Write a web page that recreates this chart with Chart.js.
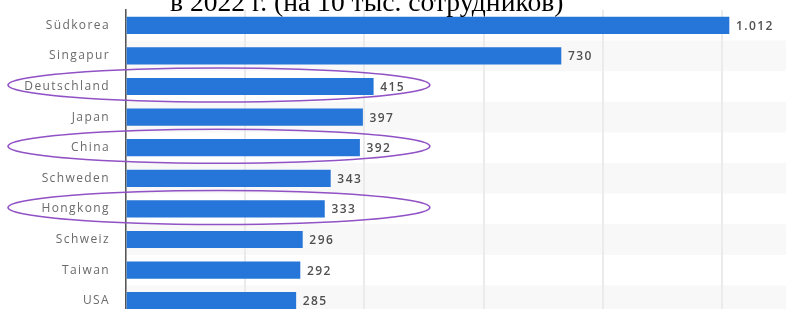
<!DOCTYPE html>
<html>
<head>
<meta charset="utf-8">
<script src="https://cdn.jsdelivr.net/npm/chart.js@4"></script>
<style>
  html, body { margin: 0; padding: 0; background: #fff; overflow: hidden; }
  #wrap { position: absolute; left: 0; top: 0; width: 841px; height: 316px; }
  #title {
    position: absolute; left: 170px; top: -12px; white-space: nowrap;
    font-family: "Liberation Serif", serif; font-size: 27.6px; line-height: 27px; color: #000;
  }
</style>
</head>
<body>
<div id="wrap"><canvas id="chart"></canvas></div>
<div id="title">в 2022 г. (на 10 тыс. сотрудников)</div>
<script>
// данные с картинки
const countries = ['Südkorea', 'Singapur', 'Deutschland', 'Japan', 'China', 'Schweden', 'Hongkong', 'Schweiz', 'Taiwan', 'USA'];
const robots = [1012, 730, 415, 397, 392, 343, 333, 296, 292, 285];
const marked = ['Deutschland', 'China', 'Hongkong'];

// полосы на фоне строк
const stripes = {
    id: 'stripes',
    beforeDraw(chart) {
        const { ctx, chartArea, scales } = chart;
        ctx.letterSpacing = '1.4px';
        const step = scales.y.getPixelForValue(1) - scales.y.getPixelForValue(0);
        ctx.save();
        ctx.fillStyle = '#f8f8f8';
        countries.forEach((c, i) => {
            if (i % 2 === 1) {
                const y = scales.y.getPixelForValue(i);
                ctx.fillRect(chartArea.left, y - step / 2, chartArea.right - chartArea.left, step);
            }
        });
        ctx.restore();
    }
};

// подписи значений у концов столбцов
const valueLabels = {
    id: 'valueLabels',
    afterDatasetsDraw(chart) {
        const { ctx } = chart;
        const meta = chart.getDatasetMeta(0);
        ctx.save();
        ctx.font = '600 12px "Open Sans"';
        ctx.fillStyle = '#505050';
        ctx.textBaseline = 'middle';
        meta.data.forEach((bar, i) => {
            ctx.fillText(robots[i].toLocaleString('de-DE'), bar.x + 7, bar.y + 1);
        });
        ctx.restore();
    }
};

// овалы вокруг отмеченных стран
const ovals = {
    id: 'ovals',
    afterDraw(chart) {
        const { ctx, scales } = chart;
        const left = 8;
        const right = scales.x.getPixelForValue(510);
        ctx.save();
        ctx.strokeStyle = '#9152c6';
        ctx.lineWidth = 1.5;
        marked.forEach(name => {
            const y = scales.y.getPixelForValue(countries.indexOf(name)) - 1.5;
            ctx.beginPath();
            ctx.ellipse((left + right) / 2, y, (right - left) / 2, 17, 0, 0, Math.PI * 2);
            ctx.stroke();
        });
        ctx.restore();
    }
};

new Chart(document.getElementById('chart'), {
    type: 'bar',
    data: {
        labels: countries,
        datasets: [{
            data: robots,
            backgroundColor: '#2675d9',
            barThickness: 16.5
        }]
    },
    options: {
        indexAxis: 'y',
        maintainAspectRatio: false,
        animation: false,
        events: [],
        layout: { padding: { top: 10, right: 0, bottom: 0, left: 0 } },
        plugins: { legend: { display: false }, tooltip: { enabled: false } },
        scales: {
            x: {
                min: 0, max: 1200,
                ticks: { display: false, stepSize: 200 },
                grid: { color: '#ebebeb', lineWidth: 2, drawTicks: false },
                border: { display: false }
            },
            y: {
                afterFit(scale) {
                    scale.width = 126;
                    scale.paddingTop = 0;
                    scale.paddingBottom = 0;
                },
                ticks: { color: '#6a6a6a', font: { family: 'Open Sans', size: 12 }, padding: 16 },
                grid: { display: false, drawTicks: false },
                border: { color: '#555', width: 1.5 }
            }
        }
    },
    plugins: [stripes, valueLabels, ovals]
});
</script>
</body>
</html>
